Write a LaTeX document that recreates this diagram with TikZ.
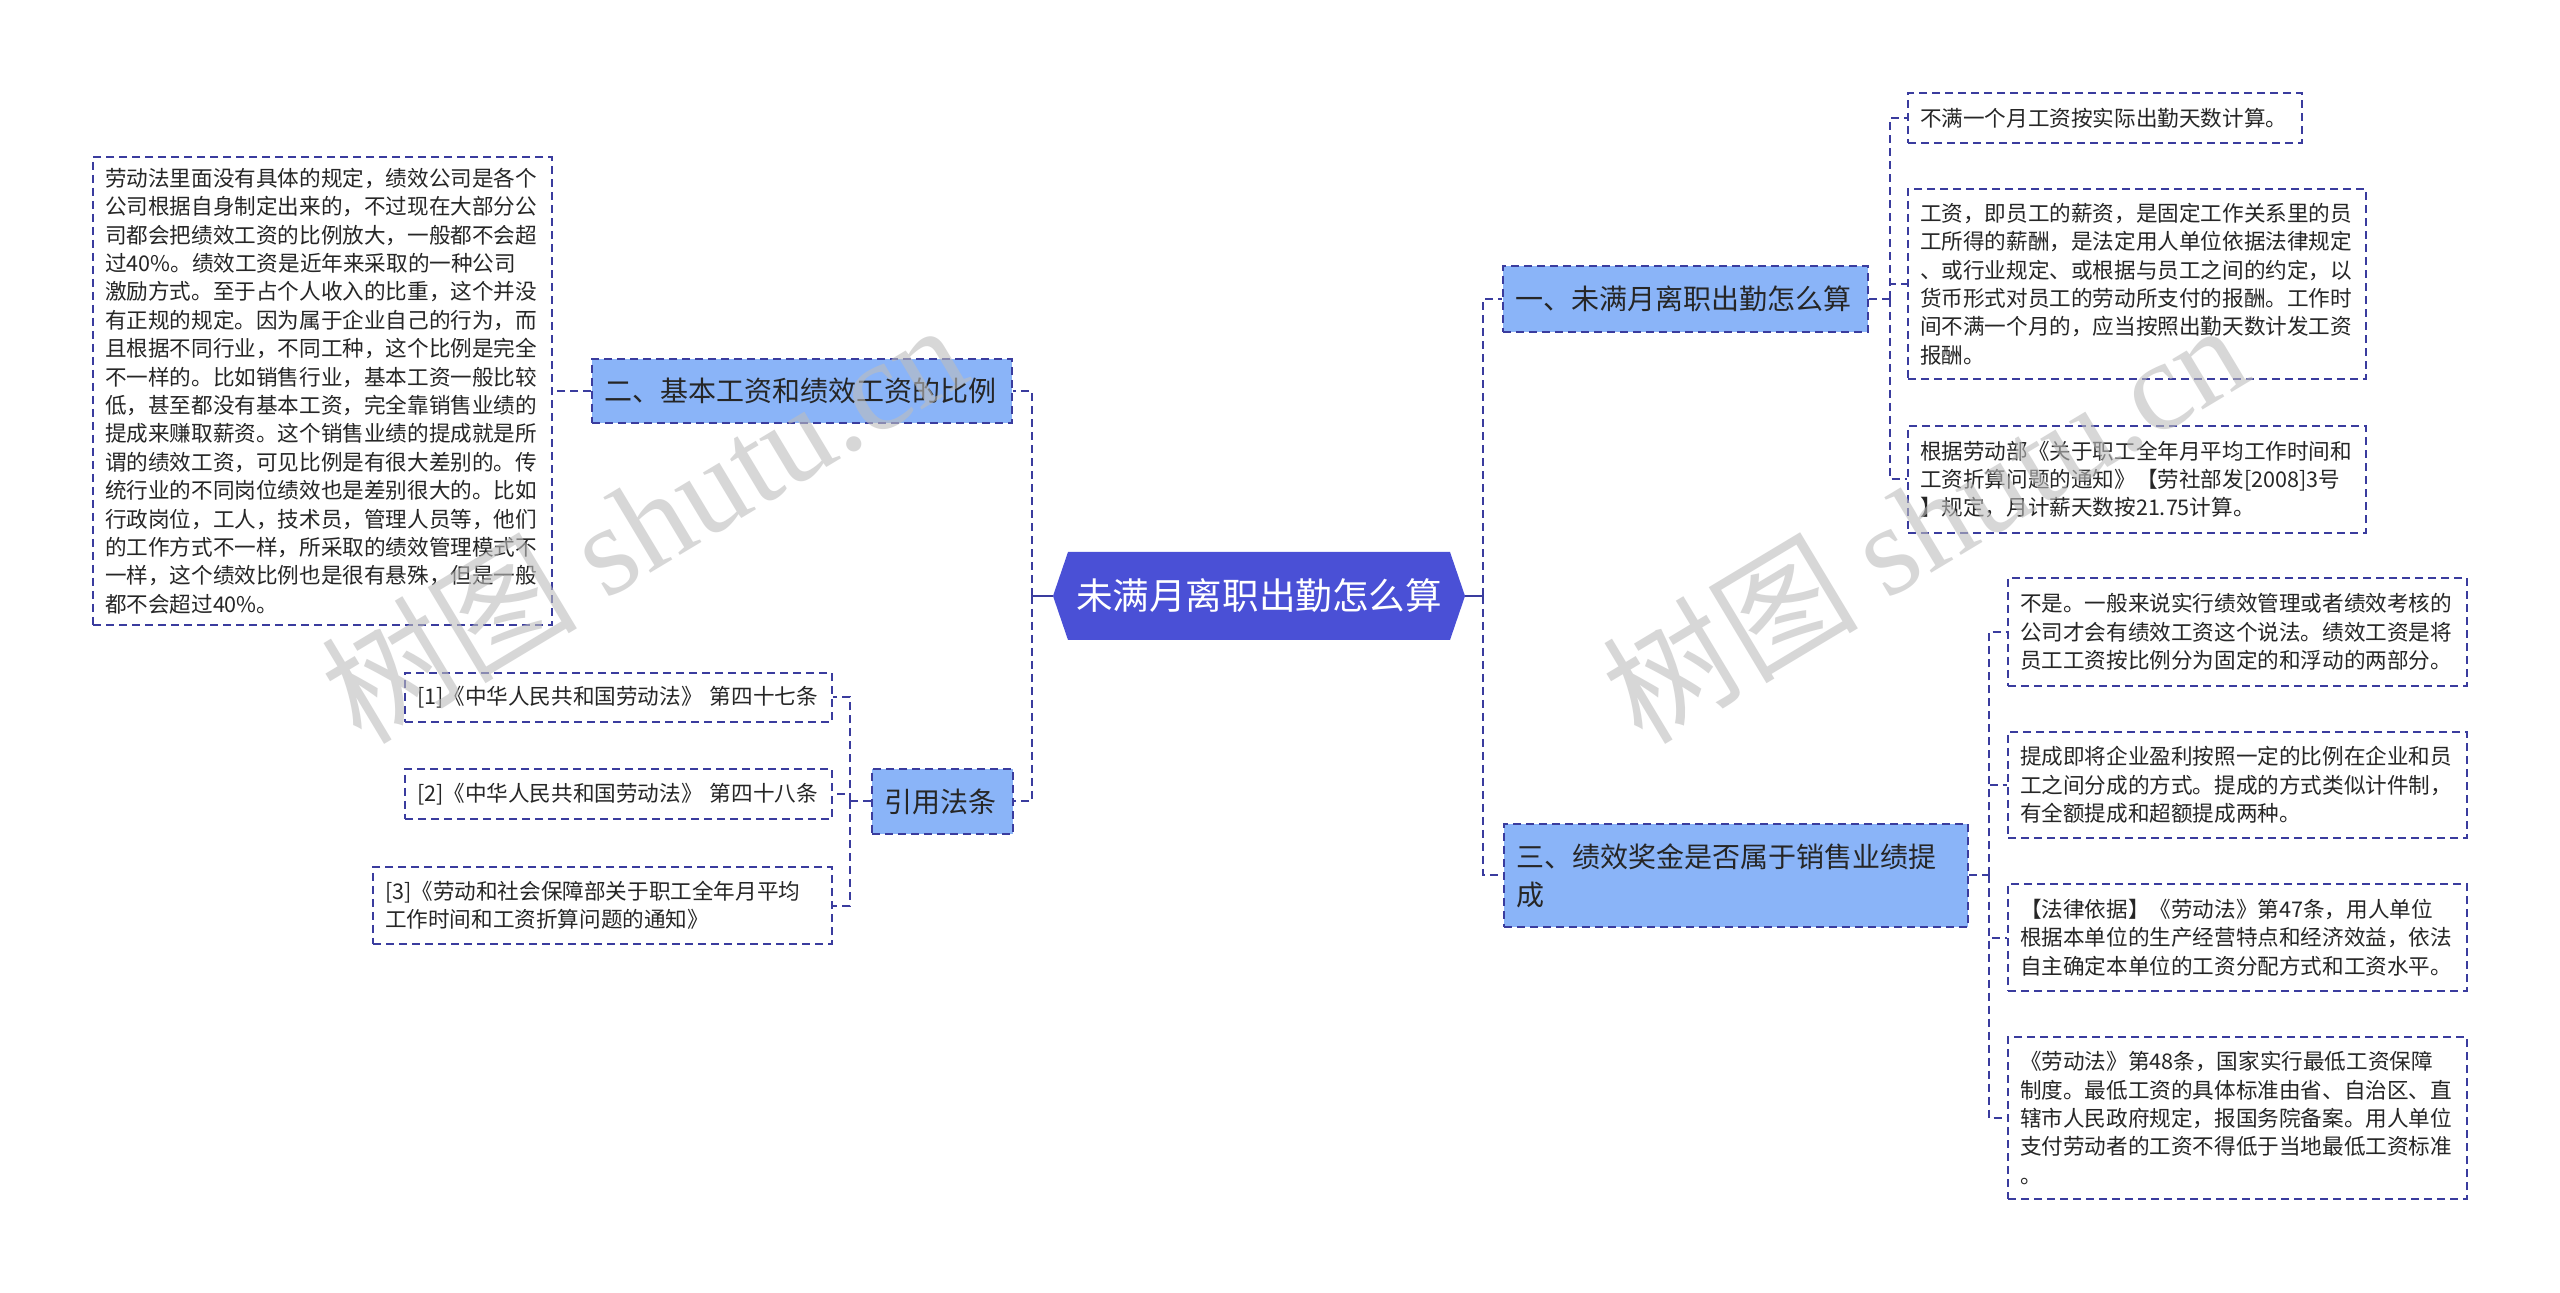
\documentclass[tikz,border=0pt]{standalone}
\usepackage{fontspec}
\setmainfont{Noto Sans CJK SC}
\newfontfamily\wmlatin{Liberation Serif}
\definecolor{lineblue}{HTML}{3A3C9E}
\definecolor{branchfill}{HTML}{8AB4F8}
\definecolor{rootfill}{HTML}{4A50D6}
\definecolor{wmgray}{HTML}{BDBDBD}
\definecolor{txt}{HTML}{262626}
\tikzset{
 dashbox/.style={draw=lineblue, line width=1pt, dash pattern=on 4pt off 2.5pt},
 leaf/.style={dashbox, fill=white, inner xsep=5pt, inner ysep=0pt, text=txt,
   font=\fontsize{10.8pt}{14.2pt}\selectfont},
 branch/.style={dashbox, fill=branchfill, inner xsep=6pt, inner ysep=0pt, text=txt,
   font=\fontsize{14pt}{19pt}\selectfont},
 conn/.style={draw=lineblue, line width=1pt, dash pattern=on 4pt off 2.5pt},
 rootconn/.style={draw=lineblue, line width=1pt},
 watermark/.style={text=wmgray, text opacity=0.6, rotate=31, inner sep=0pt},
}
\newcommand\mkbox[7]{%
 \pgfmathsetmacro\mkbw{(#5-#3)*0.5}%
 \pgfmathsetmacro\mkbh{(#6-#4)*0.5}%
 \pgfmathsetmacro\mktw{(#5-#3)*0.5-12}%
 \node[#1, minimum width=\mkbw pt, minimum height=\mkbh pt, text width=\mktw pt, align=left]
   (#2) at ({(#3+#5)/2},{(#4+#6)/2}) {#7};%
}
\begin{document}
\begin{tikzpicture}[x=0.5pt,y=-0.5pt]
\useasboundingbox[fill=white] (0,0) rectangle (2560,1293);

% root
\fill[rootfill] (1053,596) -- (1068,552) -- (1450,552) -- (1465,596) -- (1450,640) -- (1068,640) -- cycle;
\node[font=\fontsize{18.3pt}{22pt}\selectfont, text=white, minimum width=206pt, minimum height=44pt, inner sep=0pt] (root) at (1259,596) {未满月离职出勤怎么算};

% left side
\mkbox{leaf}{lt1}{93}{157}{552}{625}{劳动法里面没有具体的规定，绩效公司是各个\\公司根据自身制定出来的，不过现在大部分公\\司都会把绩效工资的比例放大，一般都不会超\\过40\%。绩效工资是近年来采取的一种公司\\激励方式。至于占个人收入的比重，这个并没\\有正规的规定。因为属于企业自己的行为，而\\且根据不同行业，不同工种，这个比例是完全\\不一样的。比如销售行业，基本工资一般比较\\低，甚至都没有基本工资，完全靠销售业绩的\\提成来赚取薪资。这个销售业绩的提成就是所\\谓的绩效工资，可见比例是有很大差别的。传\\统行业的不同岗位绩效也是差别很大的。比如\\行政岗位，工人，技术员，管理人员等，他们\\的工作方式不一样，所采取的绩效管理模式不\\一样，这个绩效比例也是很有悬殊，但是一般\\都不会超过40\%。}
\mkbox{branch}{b2}{592}{359}{1012}{423}{二、基本工资和绩效工资的比例}
\mkbox{branch}{cite}{872}{769}{1013}{834}{引用法条}
\mkbox{leaf}{c1}{405}{673}{832}{722}{[1]《中华人民共和国劳动法》 第四十七条}
\mkbox{leaf}{c2}{405}{769}{832}{819}{[2]《中华人民共和国劳动法》 第四十八条}
\mkbox{leaf}{c3}{373}{867}{832}{944}{[3]《劳动和社会保障部关于职工全年月平均\\工作时间和工资折算问题的通知》}

% right side
\mkbox{branch}{b1}{1503}{266}{1868}{332}{一、未满月离职出勤怎么算}
\mkbox{leaf}{a1}{1908}{93}{2302}{143}{不满一个月工资按实际出勤天数计算。}
\mkbox{leaf}{a2}{1908}{189}{2366}{379}{工资，即员工的薪资，是固定工作关系里的员\\工所得的薪酬，是法定用人单位依据法律规定\\、或行业规定、或根据与员工之间的约定，以\\货币形式对员工的劳动所支付的报酬。工作时\\间不满一个月的，应当按照出勤天数计发工资\\报酬。}
\mkbox{leaf}{a3}{1908}{426}{2366}{533}{根据劳动部《关于职工全年月平均工作时间和\\工资折算问题的通知》【劳社部发[2008]3号\\】规定，月计薪天数按21.75计算。}
\mkbox{branch}{b3}{1504}{824}{1968}{927}{三、绩效奖金是否属于销售业绩提\\成}
\mkbox{leaf}{d1}{2008}{578}{2467}{686}{不是。一般来说实行绩效管理或者绩效考核的\\公司才会有绩效工资这个说法。绩效工资是将\\员工工资按比例分为固定的和浮动的两部分。}
\mkbox{leaf}{d2}{2008}{732}{2467}{838}{提成即将企业盈利按照一定的比例在企业和员\\工之间分成的方式。提成的方式类似计件制，\\有全额提成和超额提成两种。}
\mkbox{leaf}{d3}{2008}{884}{2467}{991}{【法律依据】《劳动法》第47条，用人单位\\根据本单位的生产经营特点和经济效益，依法\\自主确定本单位的工资分配方式和工资水平。}
\mkbox{leaf}{d4}{2008}{1037}{2467}{1199}{《劳动法》第48条，国家实行最低工资保障\\制度。最低工资的具体标准由省、自治区、直\\辖市人民政府规定，报国务院备案。用人单位\\支付劳动者的工资不得低于当地最低工资标准\\。}

% connectors: left
\draw[rootconn] (root.west) -- ++(-21,0) coordinate (ltr);
\draw[conn] (ltr) |- (b2.east);
\draw[conn] (ltr) |- (cite.east);
\draw[conn] (b2.west) -- (lt1.east);
\draw[conn] (cite.west) -- ++(-21,0) coordinate (ctr);
\draw[conn] (ctr) |- (c1.east);
\draw[conn] (ctr) |- (c2.east);
\draw[conn] (ctr) |- (c3.east);

% connectors: right
\draw[rootconn] (root.east) -- ++(18,0) coordinate (rtr);
\draw[conn] (rtr) |- (b1.west);
\draw[conn] (rtr) |- (b3.west);
\draw[conn] (b1.east) -- ++(21,0) coordinate (r1t);
\draw[conn] (r1t) |- (a1.west);
\draw[conn] (r1t) |- (a2.west);
\draw[conn] (r1t) |- (a3.west);
\draw[conn] (b3.east) -- ++(20,0) coordinate (r3t);
\draw[conn] (r3t) |- (d1.west);
\draw[conn] (r3t) |- (d2.west);
\draw[conn] (r3t) |- (d3.west);
\draw[conn] (r3t) |- (d4.west);

% watermarks
\node[watermark] (wm1) at (643,521) {\fontsize{64pt}{72pt}\selectfont 树图 \wmlatin shutu.cn};
\node[watermark] (wm2) at (1924,521) {\fontsize{64pt}{72pt}\selectfont 树图 \wmlatin shutu.cn};
\end{tikzpicture}
\end{document}
